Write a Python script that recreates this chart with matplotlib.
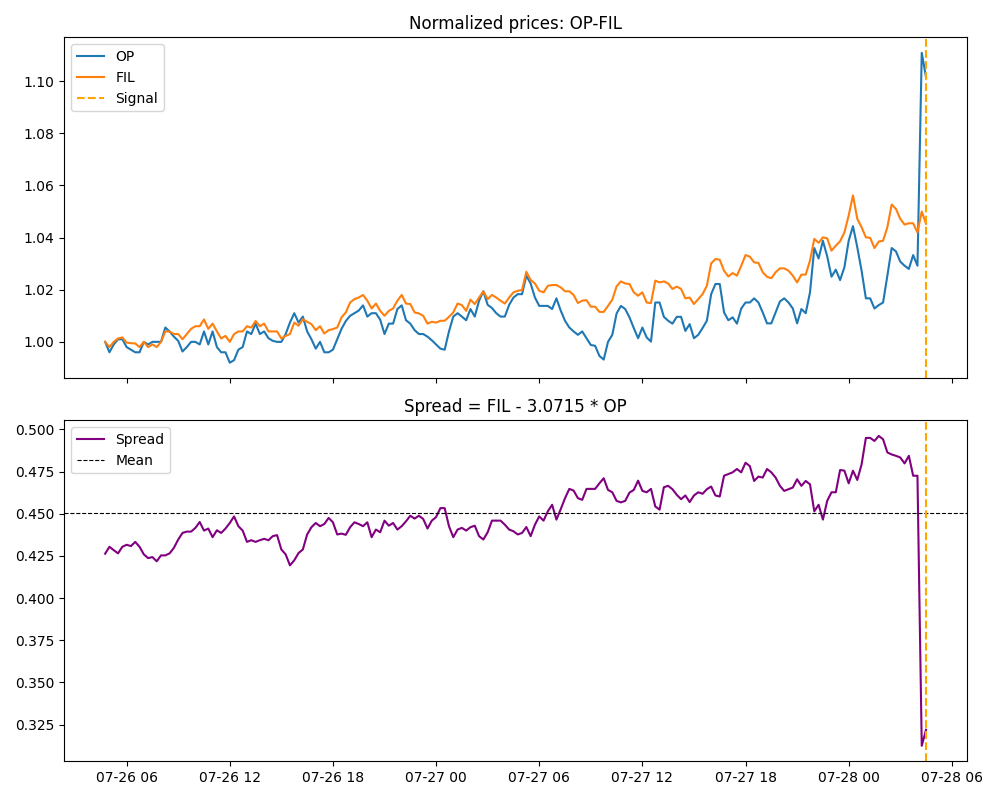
import matplotlib
matplotlib.use("Agg")
import matplotlib.pyplot as plt
import matplotlib.dates as mdates
import numpy as np
import pandas as pd

start_time = "2025-07-26 04:45"
n_points = 192
freq = "15min"

op_norm = [
    1.000, 0.996, 0.999, 1.001, 1.001, 0.998, 0.997, 0.996, 0.996, 1.000,
    0.999, 1.000, 1.000, 1.000, 1.0055, 1.004, 1.002, 1.0004, 0.9963, 0.998,
    1.000, 1.000, 0.999, 1.004, 0.999, 1.004, 0.998, 0.996, 0.996, 0.992,
    0.993, 0.997, 0.998, 1.004, 1.003, 1.007, 1.003, 1.004, 1.0014, 1.0004,
    1.000, 1.000, 1.003, 1.0074, 1.011,
    1.0074, 1.0097, 1.004, 1.001, 0.9974,
    1.000, 0.996, 0.996, 0.997, 1.001, 1.005, 1.008, 1.010, 1.011, 1.012,
    1.014, 1.0097, 1.011, 1.011, 1.0085, 1.003, 1.007, 1.007, 1.0126, 1.014,
    1.0083, 1.007, 1.0045, 1.003, 1.003, 1.002, 1.0006, 0.999, 0.9974, 0.997,
    1.004, 1.0097, 1.011, 1.0097, 1.0083, 1.0126, 1.0097, 1.0158, 1.0194, 1.0142,
    1.013, 1.011, 1.0097, 1.0097, 1.0142, 1.017, 1.0183, 1.0183, 1.0254, 1.0224,
    1.017, 1.0138, 1.0138, 1.0138, 1.0126, 1.0167, 1.012, 1.0081, 1.0055, 1.004,
    1.0027, 1.004, 1.0014, 0.9988, 0.9985, 0.9946, 0.9932, 1.000, 1.0027, 1.0109,
    1.0138, 1.0126, 1.0094, 1.0053, 1.0014, 1.0055, 1.0017, 1.0001, 1.0151, 1.0151,
    1.0096, 1.0081, 1.007, 1.0096, 1.0096, 1.0042, 1.0068, 1.0014, 1.0027, 1.0053,
    1.0081, 1.0183, 1.0222, 1.0222, 1.0113, 1.0083, 1.0094, 1.007,
    1.0128, 1.0151, 1.0151, 1.0167, 1.0151, 1.0113, 1.0071, 1.0071, 1.0113, 1.0155,
    1.0167, 1.0151, 1.0128, 1.0071, 1.0126, 1.011, 1.019, 1.036, 1.032, 1.0388,
    1.0328, 1.025, 1.0277, 1.0237, 1.0286, 1.0388, 1.0444, 1.0363, 1.0273, 1.0167,
    1.0167, 1.0128, 1.0141, 1.0151, 1.0254, 1.036, 1.0347, 1.0308, 1.0292, 1.028,
    1.0333, 1.0292, 1.1109, 1.1015,
]

fil_norm = [
    1.000, 0.998, 1.000, 1.0013, 1.0017, 0.9997, 0.9995, 0.9994, 0.998, 1.000,
    0.998, 0.999, 0.998, 1.000, 1.004, 1.004, 1.003, 1.003, 1.001, 1.003,
    1.005, 1.006, 1.006, 1.0086, 1.005, 1.007, 1.004, 1.0013, 1.0023, 1.000,
    1.003, 1.004, 1.004, 1.006, 1.0055, 1.008, 1.006, 1.007, 1.004, 1.004,
    1.004, 1.0013, 1.0023, 1.003, 1.0074,
    1.0062, 1.0087, 1.0077, 1.0068, 1.0045,
    1.006, 1.0032, 1.0045, 1.0049, 1.0055, 1.0094, 1.0113, 1.0151, 1.0164, 1.017,
    1.018, 1.0158, 1.0128, 1.0147, 1.0119, 1.010, 1.0119, 1.0128, 1.0158, 1.018,
    1.0147, 1.0145, 1.0113, 1.0109, 1.010, 1.007, 1.0077, 1.0074, 1.0081, 1.0081,
    1.0096, 1.0113, 1.0147, 1.0141, 1.0119, 1.0162, 1.0145, 1.017, 1.0194, 1.0164,
    1.018, 1.017, 1.0158, 1.0147, 1.017, 1.019, 1.0196, 1.0199, 1.0269, 1.0237,
    1.0224, 1.0196, 1.019, 1.0215, 1.0218, 1.0218, 1.0209, 1.0194, 1.0194, 1.018,
    1.0149, 1.0158, 1.016, 1.0135, 1.0135, 1.0115, 1.0115, 1.0138, 1.0162, 1.0213,
    1.0232, 1.0224, 1.0222, 1.019, 1.0177, 1.019, 1.0151, 1.0149, 1.0235, 1.0228,
    1.0232, 1.0224, 1.0203, 1.0212, 1.0203, 1.0167, 1.017, 1.0145, 1.0164, 1.0183,
    1.0215, 1.0301, 1.0318, 1.0315, 1.0273, 1.0251, 1.0264, 1.0254,
    1.0292, 1.0333, 1.0327, 1.0305, 1.0303, 1.0267, 1.025, 1.0244, 1.0267, 1.0282,
    1.0282, 1.0273, 1.0254, 1.0228, 1.0258, 1.0258, 1.0312, 1.0395, 1.038, 1.0401,
    1.0397, 1.035, 1.0369, 1.0386, 1.042, 1.0485, 1.0562, 1.0472, 1.044, 1.0401,
    1.0399, 1.036, 1.0385, 1.0388, 1.044, 1.0527, 1.051, 1.0472, 1.045, 1.0455,
    1.0455, 1.042, 1.050, 1.0453,
]

spread = [
    0.4263, 0.4304, 0.4284, 0.4265, 0.4304, 0.4316, 0.4308, 0.4333, 0.4304, 0.4259,
    0.4237, 0.4243, 0.4218, 0.4253, 0.4253, 0.4265, 0.4298, 0.4347, 0.4386, 0.4394,
    0.4394, 0.4416, 0.4451, 0.4400, 0.4412, 0.4361, 0.4402, 0.4386, 0.4412, 0.4445,
    0.4484, 0.4426, 0.4400, 0.4333, 0.4343, 0.4333, 0.4343, 0.4351, 0.4343, 0.4367,
    0.4373, 0.4288, 0.4259, 0.4194, 0.4224,
    0.4267, 0.4288, 0.4377, 0.4420, 0.4445,
    0.4426, 0.4439, 0.4475, 0.4449, 0.4377, 0.4382, 0.4375, 0.4420, 0.4449, 0.4439,
    0.4426, 0.4449, 0.4361, 0.4406, 0.4390, 0.4459, 0.4429, 0.4445, 0.4406, 0.4426,
    0.4455, 0.4488, 0.4471, 0.4488, 0.4469, 0.4412, 0.4459, 0.4480, 0.4533, 0.4533,
    0.4426, 0.4361, 0.4406, 0.4416, 0.4400, 0.4420, 0.4429, 0.4367, 0.4347, 0.4390,
    0.4459, 0.4459, 0.4459, 0.4435, 0.4406, 0.4396, 0.4377, 0.4386, 0.4421, 0.4367,
    0.4435, 0.4484, 0.4459, 0.4514, 0.4553, 0.4465, 0.4527, 0.4592, 0.4647, 0.4637,
    0.4592, 0.4582, 0.4647, 0.4647, 0.4647, 0.4680, 0.4710, 0.4641, 0.4627, 0.4576,
    0.4567, 0.4576, 0.4625, 0.4641, 0.4696, 0.4635, 0.4627, 0.4647, 0.4543, 0.4524,
    0.4657, 0.4665, 0.4645, 0.4612, 0.4586, 0.4608, 0.4569, 0.4608, 0.4627, 0.4618,
    0.4645, 0.4661, 0.4608, 0.4602, 0.4725, 0.4735, 0.4745, 0.4765,
    0.4745, 0.4802, 0.4782, 0.4694, 0.4720, 0.4714, 0.4765, 0.4745, 0.4714, 0.4665,
    0.4635, 0.4645, 0.4655, 0.4704, 0.4665, 0.4694, 0.4674, 0.4514, 0.4553, 0.4465,
    0.4576, 0.4627, 0.4627, 0.4759, 0.4755, 0.4680, 0.4755, 0.4700, 0.4792, 0.4949,
    0.4949, 0.4931, 0.4961, 0.4941, 0.4863, 0.4851, 0.4843, 0.4833, 0.4798, 0.4843,
    0.4725, 0.4725, 0.3125, 0.3220,
]

hedge_ratio = "3.0715"
pair_a, pair_b = "OP", "FIL"

times = pd.date_range(start_time, periods=n_points, freq=freq)
signal_time = times[-1]
spread_mean = float(np.mean(spread))

fig, (ax1, ax2) = plt.subplots(2, 1, figsize=(10, 8), dpi=100, sharex=True)

ax1.plot(times, op_norm, label=pair_a, color="#1f77b4")
ax1.plot(times, fil_norm, label=pair_b, color="#ff7f0e")
ax1.axvline(signal_time, color="orange", linestyle="--", label="Signal")
ax1.set_title(f"Normalized prices: {pair_a}-{pair_b}")
ax1.legend(loc="upper left")

ax2.plot(times, spread, label="Spread", color="purple")
ax2.axhline(spread_mean, color="black", linestyle="--", linewidth=0.8, label="Mean")
ax2.axvline(signal_time, color="orange", linestyle="--")
ax2.set_title(f"Spread = {pair_b} - {hedge_ratio} * {pair_a}")
ax2.legend(loc="upper left")

ax2.xaxis.set_major_locator(mdates.HourLocator(byhour=[0, 6, 12, 18]))
ax2.xaxis.set_major_formatter(mdates.DateFormatter("%m-%d %H"))

fig.tight_layout()
fig.savefig("out.png", dpi=100)
